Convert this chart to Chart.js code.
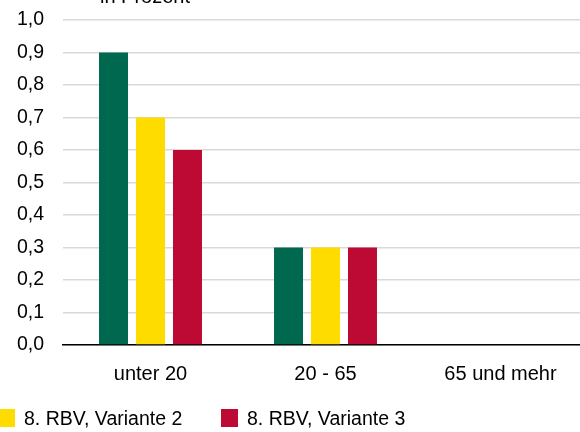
<!DOCTYPE html>
<html>
<head>
<meta charset="utf-8">
<script src="https://cdn.jsdelivr.net/npm/chart.js@4"></script>
<style>
    html, body { margin: 0; padding: 0; background: #fff; }
    body { width: 580px; height: 432px; overflow: hidden; position: relative; font-family: "Liberation Sans", Arial, sans-serif; }
    #wrap { position: absolute; left: 0; top: 0; width: 590px; height: 432px; }
    #legend { position: absolute; left: -225px; top: 409px; white-space: nowrap; }
    .item { display: inline-block; width: 223px; font-size: 19.5px; line-height: 18px; color: #000; }
    .box { display: inline-block; width: 17px; height: 18px; vertical-align: top; margin-right: 9px; }
</style>
</head>
<body>
<div id="wrap"><canvas id="barChart"></canvas></div>
<div id="legend"></div>
<script>
var categories = ['unter 20', '20 - 65', '65 und mehr'];
var seriesLabels = ['8. RBV, Variante 1', '8. RBV, Variante 2', '8. RBV, Variante 3'];
var seriesColors = ['#00684F', '#FFDC00', '#BC0A35'];
var variante1 = [0.9, 0.3, 0];
var variante2 = [0.7, 0.3, 0];
var variante3 = [0.6, 0.3, 0];
var yTickLabels = ['0,0', '0,1', '0,2', '0,3', '0,4', '0,5', '0,6', '0,7', '0,8', '0,9', '1,0'];
var titleText = 'in Prozent';

var seriesValues = [variante1, variante2, variante3];

// title sits mostly above the picture, only the bottom of it shows
var titlePlugin = {
    id: 'topTitle',
    afterDraw: function (chart) {
        const ctx = chart.ctx;
        ctx.save();
        ctx.font = '20px "Liberation Sans", Arial, sans-serif';
        ctx.fillStyle = '#000';
        ctx.textBaseline = 'alphabetic';
        ctx.fillText(titleText, 100, 3);
        ctx.restore();
    }
};

const ctx = document.getElementById('barChart').getContext('2d');
new Chart(ctx, {
    type: 'bar',
    data: {
        labels: categories,
        datasets: seriesLabels.map((label, i) => ({
            label: label,
            data: seriesValues[i],
            backgroundColor: seriesColors[i],
            borderWidth: 0,
            categoryPercentage: 0.634,
            barPercentage: 0.784
        }))
    },
    options: {
        responsive: true,
        maintainAspectRatio: false,
        animation: false,
        layout: { padding: { top: 20, bottom: 47, left: 0, right: 2 } },
        plugins: {
            legend: { display: false },
            tooltip: { enabled: false },
            title: { display: false }
        },
        scales: {
            x: {
                grid: { display: false },
                border: { display: true, color: '#000', width: 1.5 },
                ticks: {
                    color: '#000',
                    font: { family: '"Liberation Sans", Arial, sans-serif', size: 20 },
                    padding: 9
                },
                afterFit: function (axis) { axis.height = 40; }
            },
            y: {
                min: 0,
                max: 1,
                border: { display: false },
                grid: { color: '#d9d9d9', lineWidth: 1.5, drawTicks: false },
                ticks: {
                    stepSize: 0.1,
                    color: '#000',
                    padding: 19,
                    font: { family: '"Liberation Sans", Arial, sans-serif', size: 19.5 },
                    callback: function (value, index) { return yTickLabels[index]; }
                },
                afterFit: function (axis) {
                    axis.width = 63;
                    axis.paddingTop = 0;
                    axis.paddingBottom = 0;
                }
            }
        }
    },
    plugins: [titlePlugin]
});

// legend as plain html, the first item falls off the left edge
const legend = document.getElementById('legend');
seriesLabels.forEach((label, i) => {
    const item = document.createElement('span');
    item.className = 'item';
    item.innerHTML = '<span class="box" style="background:' + seriesColors[i] + '"></span>' + label;
    legend.appendChild(item);
});
</script>
</body>
</html>
